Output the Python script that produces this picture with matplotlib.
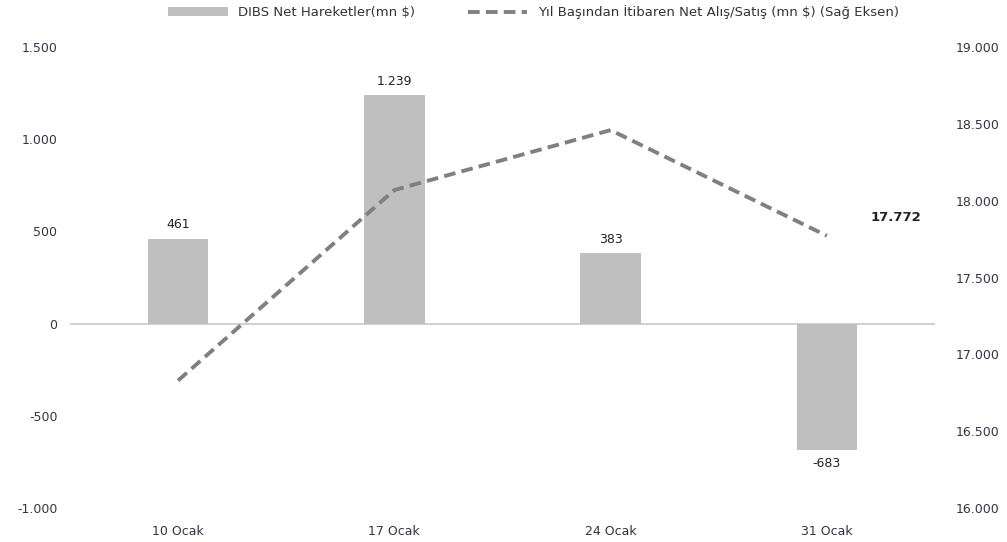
import numpy as np
from matplotlib import pyplot as plt
from matplotlib.ticker import FuncFormatter

categories = ["10 Ocak", "17 Ocak", "24 Ocak", "31 Ocak"]
net_moves = [461, 1239, 383, -683]
cumulative = [16830, 18070, 18460, 17772]

bar_label = "DIBS Net Hareketler(mn $)"
line_label = "Yıl Başından İtibaren Net Alış/Satış (mn $) (Sağ Eksen)"


def tr_fmt(v, pos=None):
    return "{:,.0f}".format(v).replace(",", ".")


fig = plt.figure(figsize=(10.07, 5.42), dpi=100)
ax = fig.add_axes([0.0695, 0.0627, 0.859, 0.8503])
ax2 = ax.twinx()

x = np.arange(len(categories))
bars = ax.bar(x, net_moves, width=0.28, color="#BFBFBF", label=bar_label, zorder=2)
line, = ax2.plot(x, cumulative, color="#808080", linestyle=(0, (3, 1.6)), linewidth=2.8,
                 label=line_label, zorder=3)

ax.set_xlim(-0.5, 3.5)
ax.set_ylim(-1000, 1500)
ax.set_yticks(np.arange(-1000, 1501, 500))
ax2.set_ylim(16000, 19000)
ax2.set_yticks(np.arange(16000, 19001, 500))
ax.yaxis.set_major_formatter(FuncFormatter(tr_fmt))
ax2.yaxis.set_major_formatter(FuncFormatter(tr_fmt))

for a in (ax, ax2):
    for s in a.spines.values():
        s.set_visible(False)
    a.tick_params(length=0, labelsize=9, colors="#333344")
ax.tick_params(axis="y", pad=9)
ax2.tick_params(axis="y", pad=15)
ax.tick_params(axis="x", pad=12)
ax.axhline(0, color="#C8C8C8", linewidth=1.2, zorder=1)

ax.set_xticks(x)
ax.set_xticklabels(categories, fontsize=9)

for xi, v in zip(x, net_moves):
    if v >= 0:
        ax.text(xi, v + 40, tr_fmt(v), ha="center", va="bottom", fontsize=9, color="#222222")
    else:
        ax.text(xi, v - 40, tr_fmt(v), ha="center", va="top", fontsize=9, color="#222222")

ax2.text(x[-1] + 0.2, cumulative[-1] + 120, tr_fmt(cumulative[-1]), ha="left", va="center",
         fontsize=9.5, fontweight="bold", color="#222222")

fig.legend(handles=[bars, line], labels=[bar_label, line_label], loc="upper center",
           bbox_to_anchor=(0.53, 1.012), ncol=2, frameon=False, fontsize=9.5,
           handlelength=4.5, columnspacing=4, labelcolor="#333333")

fig.savefig("out.png", dpi=100)
